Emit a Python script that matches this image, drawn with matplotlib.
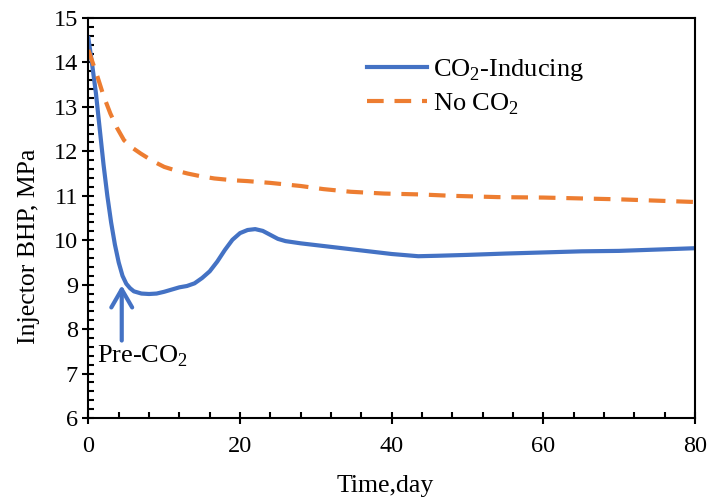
import matplotlib.pyplot as plt
from matplotlib.ticker import MultipleLocator

plt.rcParams['font.family'] = ['Liberation Serif', 'DejaVu Serif']
plt.rcParams['mathtext.fontset'] = 'custom'
plt.rcParams['mathtext.rm'] = 'Liberation Serif'

# Injector bottom-hole pressure with CO2 generation
days_co2 = [0, 0.5, 1.0, 1.5, 2.0, 2.5, 3.0, 3.5, 4.0, 4.5, 5.0, 5.5, 6.0,
            7.0, 8.0, 9.0, 10.0, 11.0, 12.0, 13.0, 14.0, 15.0, 16.0, 17.0,
            18.0, 19.0, 20.0, 21.0, 22.0, 23.0, 24.0, 25.0, 26.0, 28.0, 30.0,
            35.0, 40.0, 43.5, 46.0, 50.0, 55.0, 61.0, 65.0, 70.0, 75.0, 80.0]
bhp_co2 = [14.55, 13.95, 13.3, 12.5, 11.7, 11.0, 10.4, 9.9, 9.5, 9.2, 9.02,
           8.92, 8.85, 8.8, 8.79, 8.8, 8.84, 8.89, 8.94, 8.97, 9.03, 9.15,
           9.3, 9.52, 9.78, 10.01, 10.16, 10.23, 10.25, 10.21, 10.12, 10.03,
           9.98, 9.93, 9.89, 9.79, 9.69, 9.64, 9.65, 9.67, 9.7, 9.73, 9.75,
           9.76, 9.79, 9.82]

# Injector bottom-hole pressure without CO2
days_no = [0, 0.6, 1.2, 2.0, 2.9, 3.8, 4.7, 5.8, 6.9, 8.5, 10.0, 11.5, 13.1,
           14.8, 16.6, 19.0, 21.0, 24.0, 28.0, 31.0, 34.6, 39.0, 43.8, 47.8,
           54.0, 60.0, 65.0, 70.0, 75.0, 80.0]
bhp_no = [14.28, 13.98, 13.68, 13.25, 12.85, 12.52, 12.25, 12.08, 11.95,
          11.78, 11.65, 11.57, 11.5, 11.44, 11.39, 11.35, 11.33, 11.29, 11.22,
          11.15, 11.09, 11.05, 11.03, 11.0, 10.97, 10.96, 10.94, 10.92, 10.89,
          10.86]

fig, ax = plt.subplots(figsize=(7.07, 5.0), dpi=100)
fig.subplots_adjust(left=0.125, right=0.983, top=0.964, bottom=0.164)

ax.plot(days_co2, bhp_co2, color='#4472C4', lw=3, label='CO$_2$-Inducing')
ax.plot(days_no, bhp_no, color='#ED7D31', lw=3, linestyle=(0, (4, 2.6)),
        label='No CO$_2$')

ax.annotate('', xy=(4.4, 9.05), xytext=(4.4, 7.68),
            arrowprops=dict(arrowstyle='->,head_length=1.3,head_width=0.75',
                            color='#4472C4', lw=3))
ax.text(1.2, 7.38, 'Pre-CO$_2$', fontsize=19, va='center', ha='left')

ax.set_xlim(0, 80)
ax.set_ylim(6, 15)
ax.xaxis.set_major_locator(MultipleLocator(20))
ax.xaxis.set_minor_locator(MultipleLocator(4))
ax.yaxis.set_major_locator(MultipleLocator(1))
ax.yaxis.set_minor_locator(MultipleLocator(0.2))
ax.tick_params(which='major', direction='inout', length=8, width=1.5,
               labelsize=17.5)
ax.tick_params(which='minor', direction='in', length=4, width=1.5)
ax.tick_params(axis='x', pad=9)
for side in ['left', 'bottom', 'top', 'right']:
    ax.spines[side].set_linewidth(1.5)

ax.set_xlabel('Time,day', fontsize=18.5)
ax.set_ylabel('Injector BHP, MPa', fontsize=18.5)
ax.xaxis.set_label_coords(0.489, -0.143)
ax.yaxis.set_label_coords(-0.079, 0.43)

ax.legend(loc='upper left', bbox_to_anchor=(0.486, 0.933),
          bbox_transform=fig.transFigure, frameon=False, fontsize=19,
          handlelength=2.27, handletextpad=0.23, labelspacing=0.3)

plt.savefig('out.png')
